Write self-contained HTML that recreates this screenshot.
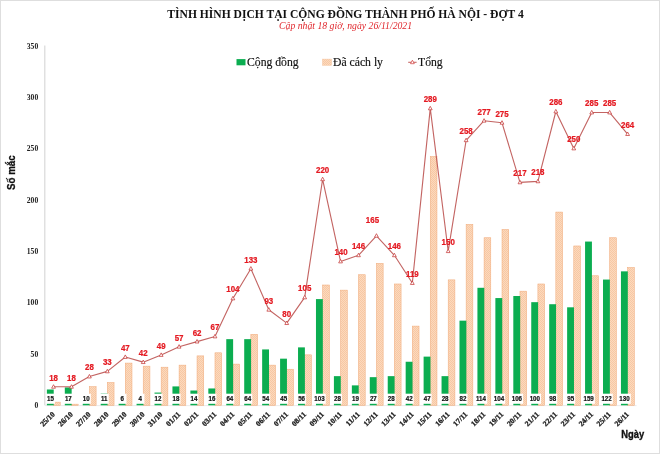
<!DOCTYPE html>
<html lang="vi"><head><meta charset="utf-8"><title>Tình hình dịch tại cộng đồng thành phố Hà Nội - Đợt 4</title>
<style>
html,body{margin:0;padding:0;background:#fff;}
body{width:660px;height:454px;overflow:hidden;}
svg{display:block;}
.ser{font-family:"Liberation Serif",serif;}
.san{font-family:"Liberation Sans",sans-serif;}
</style></head><body>
<svg width="660" height="454" viewBox="0 0 660 454">
<defs>
<pattern id="hatch" width="2" height="2" patternUnits="userSpaceOnUse">
<rect width="2" height="2" fill="#fcd9be"/>
<rect width="1" height="1" fill="#f7c8a3"/>
<rect x="1" y="1" width="1" height="1" fill="#f7c8a3"/>
</pattern>
</defs>
<rect x="0" y="0" width="660" height="454" fill="#ffffff"/>
<rect x="0.5" y="0.5" width="659" height="453" fill="none" stroke="#dedede" stroke-width="1"/>

<text class="ser" x="345.5" y="18.4" text-anchor="middle" font-size="11.58" font-weight="bold" fill="#111">TÌNH HÌNH DỊCH TẠI CỘNG ĐỒNG THÀNH PHỐ HÀ NỘI - ĐỢT 4</text>
<text class="ser" x="345.6" y="28.7" text-anchor="middle" font-size="9.72" font-style="italic" fill="#e0262c">Cập nhật 18 giờ, ngày 26/11/2021</text>
<rect x="236.5" y="59.1" width="9" height="6.2" fill="#0bad50"/>
<text class="ser" x="247" y="66.1" font-size="11.7" fill="#111" stroke="#111" stroke-width="0.15">Cộng đồng</text>
<rect x="322.5" y="59.1" width="9" height="6.2" fill="url(#hatch)" stroke="#f6c6a0" stroke-width="0.5"/>
<text class="ser" x="333" y="66.1" font-size="11.7" fill="#111" stroke="#111" stroke-width="0.15">Đã cách ly</text>
<line x1="408.2" y1="62.3" x2="416.6" y2="62.3" stroke="#c0504d" stroke-opacity="0.85" stroke-width="1.1"/>
<path d="M412.4 60.2 L414.3 63.7 L410.5 63.7 Z" fill="#fff" stroke="#d23b3b" stroke-width="0.7"/>
<text class="ser" x="418" y="66.1" font-size="11.7" fill="#111" stroke="#111" stroke-width="0.15">Tổng</text>
<line x1="44.8" y1="45.5" x2="44.8" y2="405.3" stroke="#d9d9d9" stroke-width="1.2"/>
<line x1="44.8" y1="405.6" x2="636.6" y2="405.6" stroke="#ebebeb" stroke-width="1"/>
<text class="ser" x="38.2" y="408.1" text-anchor="end" font-size="7.6" font-weight="bold" fill="#222">0</text>
<text class="ser" x="38.2" y="356.7" text-anchor="end" font-size="7.6" font-weight="bold" fill="#222">50</text>
<text class="ser" x="38.2" y="305.4" text-anchor="end" font-size="7.6" font-weight="bold" fill="#222">100</text>
<text class="ser" x="38.2" y="254.0" text-anchor="end" font-size="7.6" font-weight="bold" fill="#222">150</text>
<text class="ser" x="38.2" y="202.6" text-anchor="end" font-size="7.6" font-weight="bold" fill="#222">200</text>
<text class="ser" x="38.2" y="151.3" text-anchor="end" font-size="7.6" font-weight="bold" fill="#222">250</text>
<text class="ser" x="38.2" y="99.9" text-anchor="end" font-size="7.6" font-weight="bold" fill="#222">300</text>
<text class="ser" x="38.2" y="48.5" text-anchor="end" font-size="7.6" font-weight="bold" fill="#222">350</text>
<text class="san" transform="translate(15.4,172.6) rotate(-90) scale(0.9,1)" text-anchor="middle" font-size="10.8" font-weight="bold" fill="#111" stroke="#111" stroke-width="0.3">Số mắc</text>
<text class="san" transform="translate(632.8,438.3) scale(0.87,1)" text-anchor="middle" font-size="10.8" font-weight="bold" fill="#111" stroke="#111" stroke-width="0.35">Ngày</text>
<rect x="53.52" y="402.12" width="6.70" height="3.18" fill="url(#hatch)" stroke="#f1ad7e" stroke-width="0.55"/>
<rect x="71.46" y="404.17" width="6.70" height="1.13" fill="url(#hatch)" stroke="#f1ad7e" stroke-width="0.55"/>
<rect x="89.40" y="386.71" width="6.70" height="18.59" fill="url(#hatch)" stroke="#f1ad7e" stroke-width="0.55"/>
<rect x="107.34" y="382.60" width="6.70" height="22.70" fill="url(#hatch)" stroke="#f1ad7e" stroke-width="0.55"/>
<rect x="125.28" y="363.08" width="6.70" height="42.22" fill="url(#hatch)" stroke="#f1ad7e" stroke-width="0.55"/>
<rect x="143.22" y="366.16" width="6.70" height="39.14" fill="url(#hatch)" stroke="#f1ad7e" stroke-width="0.55"/>
<rect x="161.16" y="367.19" width="6.70" height="38.11" fill="url(#hatch)" stroke="#f1ad7e" stroke-width="0.55"/>
<rect x="179.10" y="365.14" width="6.70" height="40.16" fill="url(#hatch)" stroke="#f1ad7e" stroke-width="0.55"/>
<rect x="197.04" y="355.89" width="6.70" height="49.41" fill="url(#hatch)" stroke="#f1ad7e" stroke-width="0.55"/>
<rect x="214.98" y="352.81" width="6.70" height="52.49" fill="url(#hatch)" stroke="#f1ad7e" stroke-width="0.55"/>
<rect x="232.92" y="364.11" width="6.70" height="41.19" fill="url(#hatch)" stroke="#f1ad7e" stroke-width="0.55"/>
<rect x="250.86" y="334.32" width="6.70" height="70.98" fill="url(#hatch)" stroke="#f1ad7e" stroke-width="0.55"/>
<rect x="268.80" y="365.14" width="6.70" height="40.16" fill="url(#hatch)" stroke="#f1ad7e" stroke-width="0.55"/>
<rect x="286.74" y="369.24" width="6.70" height="36.06" fill="url(#hatch)" stroke="#f1ad7e" stroke-width="0.55"/>
<rect x="304.68" y="354.86" width="6.70" height="50.44" fill="url(#hatch)" stroke="#f1ad7e" stroke-width="0.55"/>
<rect x="322.62" y="285.01" width="6.70" height="120.29" fill="url(#hatch)" stroke="#f1ad7e" stroke-width="0.55"/>
<rect x="340.56" y="290.14" width="6.70" height="115.16" fill="url(#hatch)" stroke="#f1ad7e" stroke-width="0.55"/>
<rect x="358.50" y="274.73" width="6.70" height="130.57" fill="url(#hatch)" stroke="#f1ad7e" stroke-width="0.55"/>
<rect x="376.44" y="263.43" width="6.70" height="141.87" fill="url(#hatch)" stroke="#f1ad7e" stroke-width="0.55"/>
<rect x="394.38" y="283.98" width="6.70" height="121.32" fill="url(#hatch)" stroke="#f1ad7e" stroke-width="0.55"/>
<rect x="412.32" y="326.10" width="6.70" height="79.20" fill="url(#hatch)" stroke="#f1ad7e" stroke-width="0.55"/>
<rect x="430.26" y="156.59" width="6.70" height="248.71" fill="url(#hatch)" stroke="#f1ad7e" stroke-width="0.55"/>
<rect x="448.20" y="279.87" width="6.70" height="125.43" fill="url(#hatch)" stroke="#f1ad7e" stroke-width="0.55"/>
<rect x="466.14" y="224.40" width="6.70" height="180.90" fill="url(#hatch)" stroke="#f1ad7e" stroke-width="0.55"/>
<rect x="484.08" y="237.75" width="6.70" height="167.55" fill="url(#hatch)" stroke="#f1ad7e" stroke-width="0.55"/>
<rect x="502.02" y="229.53" width="6.70" height="175.77" fill="url(#hatch)" stroke="#f1ad7e" stroke-width="0.55"/>
<rect x="519.96" y="291.17" width="6.70" height="114.13" fill="url(#hatch)" stroke="#f1ad7e" stroke-width="0.55"/>
<rect x="537.90" y="283.98" width="6.70" height="121.32" fill="url(#hatch)" stroke="#f1ad7e" stroke-width="0.55"/>
<rect x="555.84" y="212.07" width="6.70" height="193.23" fill="url(#hatch)" stroke="#f1ad7e" stroke-width="0.55"/>
<rect x="573.78" y="245.97" width="6.70" height="159.33" fill="url(#hatch)" stroke="#f1ad7e" stroke-width="0.55"/>
<rect x="591.72" y="275.76" width="6.70" height="129.54" fill="url(#hatch)" stroke="#f1ad7e" stroke-width="0.55"/>
<rect x="609.66" y="237.75" width="6.70" height="167.55" fill="url(#hatch)" stroke="#f1ad7e" stroke-width="0.55"/>
<rect x="627.60" y="267.54" width="6.70" height="137.76" fill="url(#hatch)" stroke="#f1ad7e" stroke-width="0.55"/>
<rect x="46.87" y="389.49" width="6.85" height="15.81" fill="#0bad50"/>
<rect x="64.81" y="387.44" width="6.85" height="17.86" fill="#0bad50"/>
<rect x="82.75" y="394.63" width="6.85" height="10.67" fill="#0bad50"/>
<rect x="100.69" y="393.60" width="6.85" height="11.70" fill="#0bad50"/>
<rect x="118.63" y="398.74" width="6.85" height="6.56" fill="#0bad50"/>
<rect x="136.57" y="400.79" width="6.85" height="4.51" fill="#0bad50"/>
<rect x="154.51" y="392.57" width="6.85" height="12.73" fill="#0bad50"/>
<rect x="172.45" y="386.41" width="6.85" height="18.89" fill="#0bad50"/>
<rect x="190.39" y="390.52" width="6.85" height="14.78" fill="#0bad50"/>
<rect x="208.33" y="388.46" width="6.85" height="16.84" fill="#0bad50"/>
<rect x="226.27" y="339.15" width="6.85" height="66.15" fill="#0bad50"/>
<rect x="244.21" y="339.15" width="6.85" height="66.15" fill="#0bad50"/>
<rect x="262.15" y="349.43" width="6.85" height="55.87" fill="#0bad50"/>
<rect x="280.09" y="358.67" width="6.85" height="46.63" fill="#0bad50"/>
<rect x="298.03" y="347.37" width="6.85" height="57.93" fill="#0bad50"/>
<rect x="315.97" y="299.09" width="6.85" height="106.21" fill="#0bad50"/>
<rect x="333.91" y="376.14" width="6.85" height="29.16" fill="#0bad50"/>
<rect x="351.85" y="385.38" width="6.85" height="19.92" fill="#0bad50"/>
<rect x="369.79" y="377.16" width="6.85" height="28.14" fill="#0bad50"/>
<rect x="387.73" y="376.14" width="6.85" height="29.16" fill="#0bad50"/>
<rect x="405.67" y="361.75" width="6.85" height="43.55" fill="#0bad50"/>
<rect x="423.61" y="356.62" width="6.85" height="48.68" fill="#0bad50"/>
<rect x="441.55" y="376.14" width="6.85" height="29.16" fill="#0bad50"/>
<rect x="459.49" y="320.66" width="6.85" height="84.64" fill="#0bad50"/>
<rect x="477.43" y="287.79" width="6.85" height="117.51" fill="#0bad50"/>
<rect x="495.37" y="298.06" width="6.85" height="107.24" fill="#0bad50"/>
<rect x="513.31" y="296.01" width="6.85" height="109.29" fill="#0bad50"/>
<rect x="531.25" y="302.17" width="6.85" height="103.13" fill="#0bad50"/>
<rect x="549.19" y="304.22" width="6.85" height="101.08" fill="#0bad50"/>
<rect x="567.13" y="307.31" width="6.85" height="97.99" fill="#0bad50"/>
<rect x="585.07" y="241.56" width="6.85" height="163.74" fill="#0bad50"/>
<rect x="603.01" y="279.57" width="6.85" height="125.73" fill="#0bad50"/>
<rect x="620.95" y="271.35" width="6.85" height="133.95" fill="#0bad50"/>
<rect x="45.92" y="393.7" width="9.00" height="10.1" fill="#ffffff"/>
<text class="san" transform="translate(50.42,401.2) scale(0.94,1)" text-anchor="middle" font-size="6.6" font-weight="bold" fill="#111" stroke="#111" stroke-width="0.2">15</text>
<rect x="63.86" y="393.7" width="9.00" height="10.1" fill="#ffffff"/>
<text class="san" transform="translate(68.36,401.2) scale(0.94,1)" text-anchor="middle" font-size="6.6" font-weight="bold" fill="#111" stroke="#111" stroke-width="0.2">17</text>
<rect x="81.80" y="393.7" width="9.00" height="10.1" fill="#ffffff"/>
<text class="san" transform="translate(86.30,401.2) scale(0.94,1)" text-anchor="middle" font-size="6.6" font-weight="bold" fill="#111" stroke="#111" stroke-width="0.2">10</text>
<rect x="99.74" y="393.7" width="9.00" height="10.1" fill="#ffffff"/>
<text class="san" transform="translate(104.24,401.2) scale(0.94,1)" text-anchor="middle" font-size="6.6" font-weight="bold" fill="#111" stroke="#111" stroke-width="0.2">11</text>
<rect x="117.88" y="393.7" width="8.60" height="10.1" fill="#ffffff"/>
<text class="san" transform="translate(122.18,401.2) scale(0.94,1)" text-anchor="middle" font-size="6.6" font-weight="bold" fill="#111" stroke="#111" stroke-width="0.2">6</text>
<rect x="135.82" y="393.7" width="8.60" height="10.1" fill="#ffffff"/>
<text class="san" transform="translate(140.12,401.2) scale(0.94,1)" text-anchor="middle" font-size="6.6" font-weight="bold" fill="#111" stroke="#111" stroke-width="0.2">4</text>
<rect x="153.56" y="393.7" width="9.00" height="10.1" fill="#ffffff"/>
<text class="san" transform="translate(158.06,401.2) scale(0.94,1)" text-anchor="middle" font-size="6.6" font-weight="bold" fill="#111" stroke="#111" stroke-width="0.2">12</text>
<rect x="171.50" y="393.7" width="9.00" height="10.1" fill="#ffffff"/>
<text class="san" transform="translate(176.00,401.2) scale(0.94,1)" text-anchor="middle" font-size="6.6" font-weight="bold" fill="#111" stroke="#111" stroke-width="0.2">18</text>
<rect x="189.44" y="393.7" width="9.00" height="10.1" fill="#ffffff"/>
<text class="san" transform="translate(193.94,401.2) scale(0.94,1)" text-anchor="middle" font-size="6.6" font-weight="bold" fill="#111" stroke="#111" stroke-width="0.2">14</text>
<rect x="207.38" y="393.7" width="9.00" height="10.1" fill="#ffffff"/>
<text class="san" transform="translate(211.88,401.2) scale(0.94,1)" text-anchor="middle" font-size="6.6" font-weight="bold" fill="#111" stroke="#111" stroke-width="0.2">16</text>
<rect x="225.32" y="393.7" width="9.00" height="10.1" fill="#ffffff"/>
<text class="san" transform="translate(229.82,401.2) scale(0.94,1)" text-anchor="middle" font-size="6.6" font-weight="bold" fill="#111" stroke="#111" stroke-width="0.2">64</text>
<rect x="243.26" y="393.7" width="9.00" height="10.1" fill="#ffffff"/>
<text class="san" transform="translate(247.76,401.2) scale(0.94,1)" text-anchor="middle" font-size="6.6" font-weight="bold" fill="#111" stroke="#111" stroke-width="0.2">64</text>
<rect x="261.20" y="393.7" width="9.00" height="10.1" fill="#ffffff"/>
<text class="san" transform="translate(265.70,401.2) scale(0.94,1)" text-anchor="middle" font-size="6.6" font-weight="bold" fill="#111" stroke="#111" stroke-width="0.2">54</text>
<rect x="279.14" y="393.7" width="9.00" height="10.1" fill="#ffffff"/>
<text class="san" transform="translate(283.64,401.2) scale(0.94,1)" text-anchor="middle" font-size="6.6" font-weight="bold" fill="#111" stroke="#111" stroke-width="0.2">45</text>
<rect x="297.08" y="393.7" width="9.00" height="10.1" fill="#ffffff"/>
<text class="san" transform="translate(301.58,401.2) scale(0.94,1)" text-anchor="middle" font-size="6.6" font-weight="bold" fill="#111" stroke="#111" stroke-width="0.2">56</text>
<rect x="313.27" y="393.7" width="12.50" height="10.1" fill="#ffffff"/>
<text class="san" transform="translate(319.52,401.2) scale(0.94,1)" text-anchor="middle" font-size="6.6" font-weight="bold" fill="#111" stroke="#111" stroke-width="0.2">103</text>
<rect x="332.96" y="393.7" width="9.00" height="10.1" fill="#ffffff"/>
<text class="san" transform="translate(337.46,401.2) scale(0.94,1)" text-anchor="middle" font-size="6.6" font-weight="bold" fill="#111" stroke="#111" stroke-width="0.2">28</text>
<rect x="350.90" y="393.7" width="9.00" height="10.1" fill="#ffffff"/>
<text class="san" transform="translate(355.40,401.2) scale(0.94,1)" text-anchor="middle" font-size="6.6" font-weight="bold" fill="#111" stroke="#111" stroke-width="0.2">19</text>
<rect x="368.84" y="393.7" width="9.00" height="10.1" fill="#ffffff"/>
<text class="san" transform="translate(373.34,401.2) scale(0.94,1)" text-anchor="middle" font-size="6.6" font-weight="bold" fill="#111" stroke="#111" stroke-width="0.2">27</text>
<rect x="386.78" y="393.7" width="9.00" height="10.1" fill="#ffffff"/>
<text class="san" transform="translate(391.28,401.2) scale(0.94,1)" text-anchor="middle" font-size="6.6" font-weight="bold" fill="#111" stroke="#111" stroke-width="0.2">28</text>
<rect x="404.72" y="393.7" width="9.00" height="10.1" fill="#ffffff"/>
<text class="san" transform="translate(409.22,401.2) scale(0.94,1)" text-anchor="middle" font-size="6.6" font-weight="bold" fill="#111" stroke="#111" stroke-width="0.2">42</text>
<rect x="422.66" y="393.7" width="9.00" height="10.1" fill="#ffffff"/>
<text class="san" transform="translate(427.16,401.2) scale(0.94,1)" text-anchor="middle" font-size="6.6" font-weight="bold" fill="#111" stroke="#111" stroke-width="0.2">47</text>
<rect x="440.60" y="393.7" width="9.00" height="10.1" fill="#ffffff"/>
<text class="san" transform="translate(445.10,401.2) scale(0.94,1)" text-anchor="middle" font-size="6.6" font-weight="bold" fill="#111" stroke="#111" stroke-width="0.2">28</text>
<rect x="458.54" y="393.7" width="9.00" height="10.1" fill="#ffffff"/>
<text class="san" transform="translate(463.04,401.2) scale(0.94,1)" text-anchor="middle" font-size="6.6" font-weight="bold" fill="#111" stroke="#111" stroke-width="0.2">82</text>
<rect x="474.73" y="393.7" width="12.50" height="10.1" fill="#ffffff"/>
<text class="san" transform="translate(480.98,401.2) scale(0.94,1)" text-anchor="middle" font-size="6.6" font-weight="bold" fill="#111" stroke="#111" stroke-width="0.2">114</text>
<rect x="492.67" y="393.7" width="12.50" height="10.1" fill="#ffffff"/>
<text class="san" transform="translate(498.92,401.2) scale(0.94,1)" text-anchor="middle" font-size="6.6" font-weight="bold" fill="#111" stroke="#111" stroke-width="0.2">104</text>
<rect x="510.61" y="393.7" width="12.50" height="10.1" fill="#ffffff"/>
<text class="san" transform="translate(516.86,401.2) scale(0.94,1)" text-anchor="middle" font-size="6.6" font-weight="bold" fill="#111" stroke="#111" stroke-width="0.2">106</text>
<rect x="528.55" y="393.7" width="12.50" height="10.1" fill="#ffffff"/>
<text class="san" transform="translate(534.80,401.2) scale(0.94,1)" text-anchor="middle" font-size="6.6" font-weight="bold" fill="#111" stroke="#111" stroke-width="0.2">100</text>
<rect x="548.24" y="393.7" width="9.00" height="10.1" fill="#ffffff"/>
<text class="san" transform="translate(552.74,401.2) scale(0.94,1)" text-anchor="middle" font-size="6.6" font-weight="bold" fill="#111" stroke="#111" stroke-width="0.2">98</text>
<rect x="566.18" y="393.7" width="9.00" height="10.1" fill="#ffffff"/>
<text class="san" transform="translate(570.68,401.2) scale(0.94,1)" text-anchor="middle" font-size="6.6" font-weight="bold" fill="#111" stroke="#111" stroke-width="0.2">95</text>
<rect x="582.37" y="393.7" width="12.50" height="10.1" fill="#ffffff"/>
<text class="san" transform="translate(588.62,401.2) scale(0.94,1)" text-anchor="middle" font-size="6.6" font-weight="bold" fill="#111" stroke="#111" stroke-width="0.2">159</text>
<rect x="600.31" y="393.7" width="12.50" height="10.1" fill="#ffffff"/>
<text class="san" transform="translate(606.56,401.2) scale(0.94,1)" text-anchor="middle" font-size="6.6" font-weight="bold" fill="#111" stroke="#111" stroke-width="0.2">122</text>
<rect x="618.25" y="393.7" width="12.50" height="10.1" fill="#ffffff"/>
<text class="san" transform="translate(624.50,401.2) scale(0.94,1)" text-anchor="middle" font-size="6.6" font-weight="bold" fill="#111" stroke="#111" stroke-width="0.2">130</text>
<polyline points="53.52,386.81 71.46,386.81 89.40,376.54 107.34,371.40 125.28,357.02 143.22,362.15 161.16,354.96 179.10,346.74 197.04,341.61 214.98,336.47 232.92,298.46 250.86,268.67 268.80,309.76 286.74,323.12 304.68,297.43 322.62,179.29 340.56,261.48 358.50,255.31 376.44,235.80 394.38,255.31 412.32,283.05 430.26,108.41 448.20,251.20 466.14,140.26 484.08,120.74 502.02,122.79 519.96,182.38 537.90,181.35 555.84,111.49 573.78,148.47 591.72,112.52 609.66,112.52 627.60,134.09" fill="none" stroke="#bb4f4c" stroke-opacity="0.88" stroke-width="1.12" stroke-linejoin="round"/>
<path d="M53.52 384.71 L55.42 388.21 L51.62 388.21 Z" fill="#fff" stroke="#c63a38" stroke-width="0.75"/>
<path d="M71.46 384.71 L73.36 388.21 L69.56 388.21 Z" fill="#fff" stroke="#c63a38" stroke-width="0.75"/>
<path d="M89.40 374.44 L91.30 377.94 L87.50 377.94 Z" fill="#fff" stroke="#c63a38" stroke-width="0.75"/>
<path d="M107.34 369.30 L109.24 372.80 L105.44 372.80 Z" fill="#fff" stroke="#c63a38" stroke-width="0.75"/>
<path d="M125.28 354.92 L127.18 358.42 L123.38 358.42 Z" fill="#fff" stroke="#c63a38" stroke-width="0.75"/>
<path d="M143.22 360.05 L145.12 363.55 L141.32 363.55 Z" fill="#fff" stroke="#c63a38" stroke-width="0.75"/>
<path d="M161.16 352.86 L163.06 356.36 L159.26 356.36 Z" fill="#fff" stroke="#c63a38" stroke-width="0.75"/>
<path d="M179.10 344.64 L181.00 348.14 L177.20 348.14 Z" fill="#fff" stroke="#c63a38" stroke-width="0.75"/>
<path d="M197.04 339.51 L198.94 343.01 L195.14 343.01 Z" fill="#fff" stroke="#c63a38" stroke-width="0.75"/>
<path d="M214.98 334.37 L216.88 337.87 L213.08 337.87 Z" fill="#fff" stroke="#c63a38" stroke-width="0.75"/>
<path d="M232.92 296.36 L234.82 299.86 L231.02 299.86 Z" fill="#fff" stroke="#c63a38" stroke-width="0.75"/>
<path d="M250.86 266.57 L252.76 270.07 L248.96 270.07 Z" fill="#fff" stroke="#c63a38" stroke-width="0.75"/>
<path d="M268.80 307.66 L270.70 311.16 L266.90 311.16 Z" fill="#fff" stroke="#c63a38" stroke-width="0.75"/>
<path d="M286.74 321.02 L288.64 324.52 L284.84 324.52 Z" fill="#fff" stroke="#c63a38" stroke-width="0.75"/>
<path d="M304.68 295.33 L306.58 298.83 L302.78 298.83 Z" fill="#fff" stroke="#c63a38" stroke-width="0.75"/>
<path d="M322.62 177.19 L324.52 180.69 L320.72 180.69 Z" fill="#fff" stroke="#c63a38" stroke-width="0.75"/>
<path d="M340.56 259.38 L342.46 262.88 L338.66 262.88 Z" fill="#fff" stroke="#c63a38" stroke-width="0.75"/>
<path d="M358.50 253.21 L360.40 256.71 L356.60 256.71 Z" fill="#fff" stroke="#c63a38" stroke-width="0.75"/>
<path d="M376.44 233.70 L378.34 237.20 L374.54 237.20 Z" fill="#fff" stroke="#c63a38" stroke-width="0.75"/>
<path d="M394.38 253.21 L396.28 256.71 L392.48 256.71 Z" fill="#fff" stroke="#c63a38" stroke-width="0.75"/>
<path d="M412.32 280.95 L414.22 284.45 L410.42 284.45 Z" fill="#fff" stroke="#c63a38" stroke-width="0.75"/>
<path d="M430.26 106.31 L432.16 109.81 L428.36 109.81 Z" fill="#fff" stroke="#c63a38" stroke-width="0.75"/>
<path d="M448.20 249.10 L450.10 252.60 L446.30 252.60 Z" fill="#fff" stroke="#c63a38" stroke-width="0.75"/>
<path d="M466.14 138.16 L468.04 141.66 L464.24 141.66 Z" fill="#fff" stroke="#c63a38" stroke-width="0.75"/>
<path d="M484.08 118.64 L485.98 122.14 L482.18 122.14 Z" fill="#fff" stroke="#c63a38" stroke-width="0.75"/>
<path d="M502.02 120.69 L503.92 124.19 L500.12 124.19 Z" fill="#fff" stroke="#c63a38" stroke-width="0.75"/>
<path d="M519.96 180.28 L521.86 183.78 L518.06 183.78 Z" fill="#fff" stroke="#c63a38" stroke-width="0.75"/>
<path d="M537.90 179.25 L539.80 182.75 L536.00 182.75 Z" fill="#fff" stroke="#c63a38" stroke-width="0.75"/>
<path d="M555.84 109.39 L557.74 112.89 L553.94 112.89 Z" fill="#fff" stroke="#c63a38" stroke-width="0.75"/>
<path d="M573.78 146.37 L575.68 149.87 L571.88 149.87 Z" fill="#fff" stroke="#c63a38" stroke-width="0.75"/>
<path d="M591.72 110.42 L593.62 113.92 L589.82 113.92 Z" fill="#fff" stroke="#c63a38" stroke-width="0.75"/>
<path d="M609.66 110.42 L611.56 113.92 L607.76 113.92 Z" fill="#fff" stroke="#c63a38" stroke-width="0.75"/>
<path d="M627.60 131.99 L629.50 135.49 L625.70 135.49 Z" fill="#fff" stroke="#c63a38" stroke-width="0.75"/>
<text class="san" transform="translate(53.52,380.71) scale(0.88,1)" text-anchor="middle" font-size="9.0" font-weight="bold" fill="#e41a22" stroke="#e41a22" stroke-width="0.25">18</text>
<text class="san" transform="translate(71.46,380.71) scale(0.88,1)" text-anchor="middle" font-size="9.0" font-weight="bold" fill="#e41a22" stroke="#e41a22" stroke-width="0.25">18</text>
<text class="san" transform="translate(89.40,370.44) scale(0.88,1)" text-anchor="middle" font-size="9.0" font-weight="bold" fill="#e41a22" stroke="#e41a22" stroke-width="0.25">28</text>
<text class="san" transform="translate(107.34,365.30) scale(0.88,1)" text-anchor="middle" font-size="9.0" font-weight="bold" fill="#e41a22" stroke="#e41a22" stroke-width="0.25">33</text>
<text class="san" transform="translate(125.28,350.92) scale(0.88,1)" text-anchor="middle" font-size="9.0" font-weight="bold" fill="#e41a22" stroke="#e41a22" stroke-width="0.25">47</text>
<text class="san" transform="translate(143.22,356.05) scale(0.88,1)" text-anchor="middle" font-size="9.0" font-weight="bold" fill="#e41a22" stroke="#e41a22" stroke-width="0.25">42</text>
<text class="san" transform="translate(161.16,348.86) scale(0.88,1)" text-anchor="middle" font-size="9.0" font-weight="bold" fill="#e41a22" stroke="#e41a22" stroke-width="0.25">49</text>
<text class="san" transform="translate(179.10,340.64) scale(0.88,1)" text-anchor="middle" font-size="9.0" font-weight="bold" fill="#e41a22" stroke="#e41a22" stroke-width="0.25">57</text>
<text class="san" transform="translate(197.04,335.51) scale(0.88,1)" text-anchor="middle" font-size="9.0" font-weight="bold" fill="#e41a22" stroke="#e41a22" stroke-width="0.25">62</text>
<text class="san" transform="translate(214.98,330.37) scale(0.88,1)" text-anchor="middle" font-size="9.0" font-weight="bold" fill="#e41a22" stroke="#e41a22" stroke-width="0.25">67</text>
<text class="san" transform="translate(232.92,292.36) scale(0.88,1)" text-anchor="middle" font-size="9.0" font-weight="bold" fill="#e41a22" stroke="#e41a22" stroke-width="0.25">104</text>
<text class="san" transform="translate(250.86,262.57) scale(0.88,1)" text-anchor="middle" font-size="9.0" font-weight="bold" fill="#e41a22" stroke="#e41a22" stroke-width="0.25">133</text>
<text class="san" transform="translate(268.80,303.66) scale(0.88,1)" text-anchor="middle" font-size="9.0" font-weight="bold" fill="#e41a22" stroke="#e41a22" stroke-width="0.25">93</text>
<text class="san" transform="translate(286.74,317.02) scale(0.88,1)" text-anchor="middle" font-size="9.0" font-weight="bold" fill="#e41a22" stroke="#e41a22" stroke-width="0.25">80</text>
<text class="san" transform="translate(304.68,290.83) scale(0.88,1)" text-anchor="middle" font-size="9.0" font-weight="bold" fill="#e41a22" stroke="#e41a22" stroke-width="0.25">105</text>
<text class="san" transform="translate(322.62,173.19) scale(0.88,1)" text-anchor="middle" font-size="9.0" font-weight="bold" fill="#e41a22" stroke="#e41a22" stroke-width="0.25">220</text>
<text class="san" transform="translate(341.06,254.68) scale(0.88,1)" text-anchor="middle" font-size="9.0" font-weight="bold" fill="#e41a22" stroke="#e41a22" stroke-width="0.25">140</text>
<text class="san" transform="translate(358.50,249.21) scale(0.88,1)" text-anchor="middle" font-size="9.0" font-weight="bold" fill="#e41a22" stroke="#e41a22" stroke-width="0.25">146</text>
<text class="san" transform="translate(372.44,223.20) scale(0.88,1)" text-anchor="middle" font-size="9.0" font-weight="bold" fill="#e41a22" stroke="#e41a22" stroke-width="0.25">165</text>
<text class="san" transform="translate(394.38,249.21) scale(0.88,1)" text-anchor="middle" font-size="9.0" font-weight="bold" fill="#e41a22" stroke="#e41a22" stroke-width="0.25">146</text>
<text class="san" transform="translate(412.32,276.95) scale(0.88,1)" text-anchor="middle" font-size="9.0" font-weight="bold" fill="#e41a22" stroke="#e41a22" stroke-width="0.25">119</text>
<text class="san" transform="translate(430.26,102.31) scale(0.88,1)" text-anchor="middle" font-size="9.0" font-weight="bold" fill="#e41a22" stroke="#e41a22" stroke-width="0.25">289</text>
<text class="san" transform="translate(448.20,245.10) scale(0.88,1)" text-anchor="middle" font-size="9.0" font-weight="bold" fill="#e41a22" stroke="#e41a22" stroke-width="0.25">150</text>
<text class="san" transform="translate(466.14,134.16) scale(0.88,1)" text-anchor="middle" font-size="9.0" font-weight="bold" fill="#e41a22" stroke="#e41a22" stroke-width="0.25">258</text>
<text class="san" transform="translate(484.08,114.64) scale(0.88,1)" text-anchor="middle" font-size="9.0" font-weight="bold" fill="#e41a22" stroke="#e41a22" stroke-width="0.25">277</text>
<text class="san" transform="translate(502.02,116.69) scale(0.88,1)" text-anchor="middle" font-size="9.0" font-weight="bold" fill="#e41a22" stroke="#e41a22" stroke-width="0.25">275</text>
<text class="san" transform="translate(519.96,176.28) scale(0.88,1)" text-anchor="middle" font-size="9.0" font-weight="bold" fill="#e41a22" stroke="#e41a22" stroke-width="0.25">217</text>
<text class="san" transform="translate(537.90,175.25) scale(0.88,1)" text-anchor="middle" font-size="9.0" font-weight="bold" fill="#e41a22" stroke="#e41a22" stroke-width="0.25">218</text>
<text class="san" transform="translate(555.84,105.39) scale(0.88,1)" text-anchor="middle" font-size="9.0" font-weight="bold" fill="#e41a22" stroke="#e41a22" stroke-width="0.25">286</text>
<text class="san" transform="translate(573.78,142.37) scale(0.88,1)" text-anchor="middle" font-size="9.0" font-weight="bold" fill="#e41a22" stroke="#e41a22" stroke-width="0.25">250</text>
<text class="san" transform="translate(591.72,106.42) scale(0.88,1)" text-anchor="middle" font-size="9.0" font-weight="bold" fill="#e41a22" stroke="#e41a22" stroke-width="0.25">285</text>
<text class="san" transform="translate(609.66,106.42) scale(0.88,1)" text-anchor="middle" font-size="9.0" font-weight="bold" fill="#e41a22" stroke="#e41a22" stroke-width="0.25">285</text>
<text class="san" transform="translate(627.60,127.99) scale(0.88,1)" text-anchor="middle" font-size="9.0" font-weight="bold" fill="#e41a22" stroke="#e41a22" stroke-width="0.25">264</text>
<text class="ser" transform="translate(55.42,414.80) rotate(-45)" text-anchor="end" font-size="7.6" font-weight="bold" fill="#1a1a1a" stroke="#1a1a1a" stroke-width="0.3">25/10</text>
<text class="ser" transform="translate(73.36,414.80) rotate(-45)" text-anchor="end" font-size="7.6" font-weight="bold" fill="#1a1a1a" stroke="#1a1a1a" stroke-width="0.3">26/10</text>
<text class="ser" transform="translate(91.30,414.80) rotate(-45)" text-anchor="end" font-size="7.6" font-weight="bold" fill="#1a1a1a" stroke="#1a1a1a" stroke-width="0.3">27/10</text>
<text class="ser" transform="translate(109.24,414.80) rotate(-45)" text-anchor="end" font-size="7.6" font-weight="bold" fill="#1a1a1a" stroke="#1a1a1a" stroke-width="0.3">28/10</text>
<text class="ser" transform="translate(127.18,414.80) rotate(-45)" text-anchor="end" font-size="7.6" font-weight="bold" fill="#1a1a1a" stroke="#1a1a1a" stroke-width="0.3">29/10</text>
<text class="ser" transform="translate(145.12,414.80) rotate(-45)" text-anchor="end" font-size="7.6" font-weight="bold" fill="#1a1a1a" stroke="#1a1a1a" stroke-width="0.3">30/10</text>
<text class="ser" transform="translate(163.06,414.80) rotate(-45)" text-anchor="end" font-size="7.6" font-weight="bold" fill="#1a1a1a" stroke="#1a1a1a" stroke-width="0.3">31/10</text>
<text class="ser" transform="translate(181.00,414.80) rotate(-45)" text-anchor="end" font-size="7.6" font-weight="bold" fill="#1a1a1a" stroke="#1a1a1a" stroke-width="0.3">01/11</text>
<text class="ser" transform="translate(198.94,414.80) rotate(-45)" text-anchor="end" font-size="7.6" font-weight="bold" fill="#1a1a1a" stroke="#1a1a1a" stroke-width="0.3">02/11</text>
<text class="ser" transform="translate(216.88,414.80) rotate(-45)" text-anchor="end" font-size="7.6" font-weight="bold" fill="#1a1a1a" stroke="#1a1a1a" stroke-width="0.3">03/11</text>
<text class="ser" transform="translate(234.82,414.80) rotate(-45)" text-anchor="end" font-size="7.6" font-weight="bold" fill="#1a1a1a" stroke="#1a1a1a" stroke-width="0.3">04/11</text>
<text class="ser" transform="translate(252.76,414.80) rotate(-45)" text-anchor="end" font-size="7.6" font-weight="bold" fill="#1a1a1a" stroke="#1a1a1a" stroke-width="0.3">05/11</text>
<text class="ser" transform="translate(270.70,414.80) rotate(-45)" text-anchor="end" font-size="7.6" font-weight="bold" fill="#1a1a1a" stroke="#1a1a1a" stroke-width="0.3">06/11</text>
<text class="ser" transform="translate(288.64,414.80) rotate(-45)" text-anchor="end" font-size="7.6" font-weight="bold" fill="#1a1a1a" stroke="#1a1a1a" stroke-width="0.3">07/11</text>
<text class="ser" transform="translate(306.58,414.80) rotate(-45)" text-anchor="end" font-size="7.6" font-weight="bold" fill="#1a1a1a" stroke="#1a1a1a" stroke-width="0.3">08/11</text>
<text class="ser" transform="translate(324.52,414.80) rotate(-45)" text-anchor="end" font-size="7.6" font-weight="bold" fill="#1a1a1a" stroke="#1a1a1a" stroke-width="0.3">09/11</text>
<text class="ser" transform="translate(342.46,414.80) rotate(-45)" text-anchor="end" font-size="7.6" font-weight="bold" fill="#1a1a1a" stroke="#1a1a1a" stroke-width="0.3">10/11</text>
<text class="ser" transform="translate(360.40,414.80) rotate(-45)" text-anchor="end" font-size="7.6" font-weight="bold" fill="#1a1a1a" stroke="#1a1a1a" stroke-width="0.3">11/11</text>
<text class="ser" transform="translate(378.34,414.80) rotate(-45)" text-anchor="end" font-size="7.6" font-weight="bold" fill="#1a1a1a" stroke="#1a1a1a" stroke-width="0.3">12/11</text>
<text class="ser" transform="translate(396.28,414.80) rotate(-45)" text-anchor="end" font-size="7.6" font-weight="bold" fill="#1a1a1a" stroke="#1a1a1a" stroke-width="0.3">13/11</text>
<text class="ser" transform="translate(414.22,414.80) rotate(-45)" text-anchor="end" font-size="7.6" font-weight="bold" fill="#1a1a1a" stroke="#1a1a1a" stroke-width="0.3">14/11</text>
<text class="ser" transform="translate(432.16,414.80) rotate(-45)" text-anchor="end" font-size="7.6" font-weight="bold" fill="#1a1a1a" stroke="#1a1a1a" stroke-width="0.3">15/11</text>
<text class="ser" transform="translate(450.10,414.80) rotate(-45)" text-anchor="end" font-size="7.6" font-weight="bold" fill="#1a1a1a" stroke="#1a1a1a" stroke-width="0.3">16/11</text>
<text class="ser" transform="translate(468.04,414.80) rotate(-45)" text-anchor="end" font-size="7.6" font-weight="bold" fill="#1a1a1a" stroke="#1a1a1a" stroke-width="0.3">17/11</text>
<text class="ser" transform="translate(485.98,414.80) rotate(-45)" text-anchor="end" font-size="7.6" font-weight="bold" fill="#1a1a1a" stroke="#1a1a1a" stroke-width="0.3">18/11</text>
<text class="ser" transform="translate(503.92,414.80) rotate(-45)" text-anchor="end" font-size="7.6" font-weight="bold" fill="#1a1a1a" stroke="#1a1a1a" stroke-width="0.3">19/11</text>
<text class="ser" transform="translate(521.86,414.80) rotate(-45)" text-anchor="end" font-size="7.6" font-weight="bold" fill="#1a1a1a" stroke="#1a1a1a" stroke-width="0.3">20/11</text>
<text class="ser" transform="translate(539.80,414.80) rotate(-45)" text-anchor="end" font-size="7.6" font-weight="bold" fill="#1a1a1a" stroke="#1a1a1a" stroke-width="0.3">21/11</text>
<text class="ser" transform="translate(557.74,414.80) rotate(-45)" text-anchor="end" font-size="7.6" font-weight="bold" fill="#1a1a1a" stroke="#1a1a1a" stroke-width="0.3">22/11</text>
<text class="ser" transform="translate(575.68,414.80) rotate(-45)" text-anchor="end" font-size="7.6" font-weight="bold" fill="#1a1a1a" stroke="#1a1a1a" stroke-width="0.3">23/11</text>
<text class="ser" transform="translate(593.62,414.80) rotate(-45)" text-anchor="end" font-size="7.6" font-weight="bold" fill="#1a1a1a" stroke="#1a1a1a" stroke-width="0.3">24/11</text>
<text class="ser" transform="translate(611.56,414.80) rotate(-45)" text-anchor="end" font-size="7.6" font-weight="bold" fill="#1a1a1a" stroke="#1a1a1a" stroke-width="0.3">25/11</text>
<text class="ser" transform="translate(629.50,414.80) rotate(-45)" text-anchor="end" font-size="7.6" font-weight="bold" fill="#1a1a1a" stroke="#1a1a1a" stroke-width="0.3">26/11</text>
</svg></body></html>
